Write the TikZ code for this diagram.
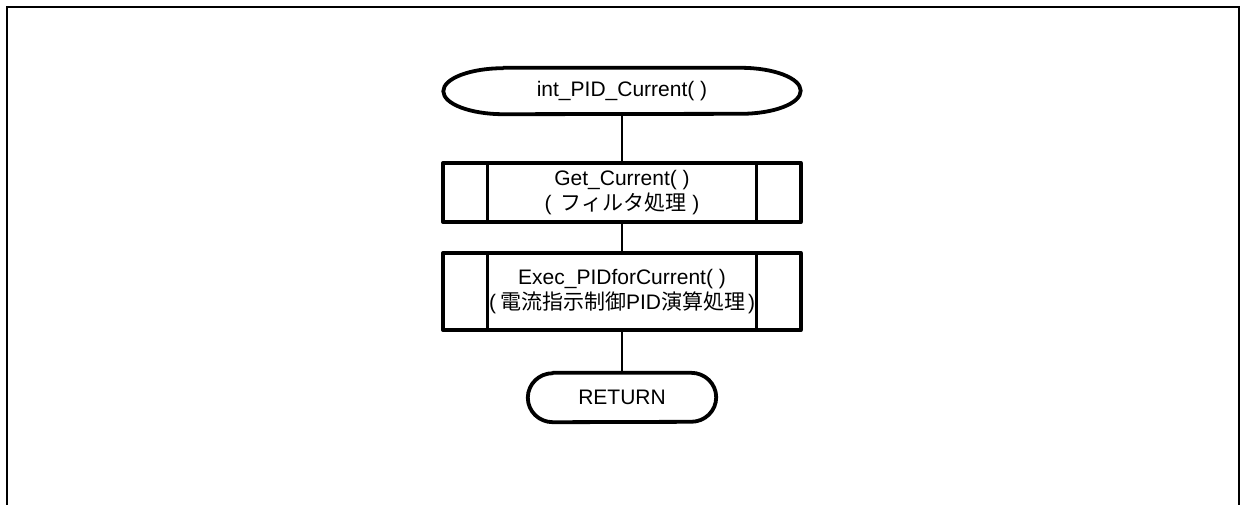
\documentclass[tikz,border=0pt]{standalone}
\usepackage{fontspec}
\setmainfont{Liberation Sans}
\newfontfamily\jp{Noto Sans CJK JP}
\newcommand\jpf{\jp\fontsize{21}{25}\selectfont}
\begin{document}
\begin{tikzpicture}[x=1pt,y=-1pt,
  lbl/.style={align=center,font=\fontsize{21}{25}\selectfont,inner sep=0pt},
  outline/.style={line width=3.8pt,line join=round},
  innerline/.style={line width=2.8pt},
  conn/.style={line width=1.8pt},
  frame/.style={line width=2.6pt}]
\useasboundingbox (0,0) rectangle (1240,504);
\draw[frame] (7,520) -- (7,7) -- (1239,7) -- (1239,520);

% start terminal
\node[lbl,minimum width=357pt,minimum height=46pt] (s) at (622,91) {int\_PID\_Current( )};
\draw[outline] ([xshift=60pt]s.north west) -- ([xshift=-60pt]s.north east)
  arc[start angle=90,end angle=-90,x radius=60pt,y radius=23pt]
  -- ([xshift=60pt]s.south west)
  arc[start angle=270,end angle=90,x radius=60pt,y radius=23pt] -- cycle;

% process 1
\node[lbl,minimum width=357pt,minimum height=59pt] (b1) at (622,192.5)
  {Get\_Current( )\\(\hspace{9pt}{\jpf フィルタ処理}\hspace{6pt})};
\draw[outline] (b1.north west) rectangle (b1.south east);
\draw[innerline] ([xshift=44pt]b1.north west) -- ([xshift=44pt]b1.south west);
\draw[innerline] ([xshift=-44pt]b1.north east) -- ([xshift=-44pt]b1.south east);

% process 2
\node[lbl,minimum width=357pt,minimum height=77pt] (b2) at (622,291.5)
  {Exec\_PIDforCurrent( )\\(\hspace{4pt}{\jpf 電流指示制御}PID{\jpf 演算処理}\hspace{3pt})};
\draw[outline] (b2.north west) rectangle (b2.south east);
\draw[innerline] ([xshift=44pt]b2.north west) -- ([xshift=44pt]b2.south west);
\draw[innerline] ([xshift=-44pt]b2.north east) -- ([xshift=-44pt]b2.south east);

% return terminal
\node[lbl,minimum width=188pt,minimum height=49pt] (r) at (622,397.5) {RETURN};
\draw[outline] ([xshift=25pt]r.north west) -- ([xshift=-25pt]r.north east)
  arc[start angle=90,end angle=-90,x radius=25pt,y radius=24.5pt]
  -- ([xshift=25pt]r.south west)
  arc[start angle=270,end angle=90,x radius=25pt,y radius=24.5pt] -- cycle;

% connectors
\draw[conn] (s.south) -- (b1.north);
\draw[conn] (b1.south) -- (b2.north);
\draw[conn] (b2.south) -- (r.north);
\end{tikzpicture}
\end{document}
